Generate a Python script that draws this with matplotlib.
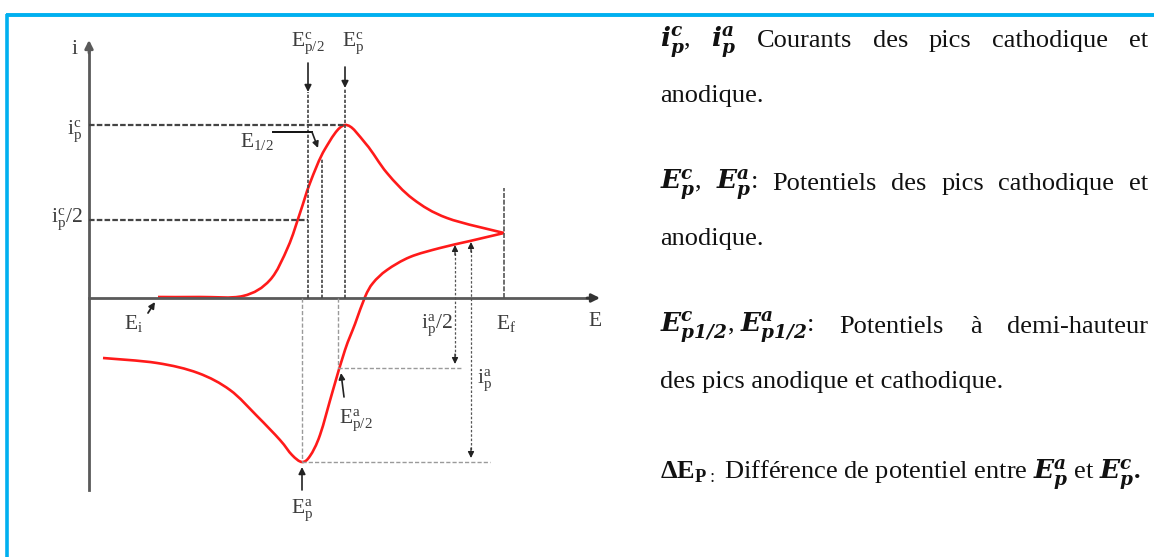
import matplotlib.pyplot as plt
import numpy as np
from matplotlib.path import Path
from matplotlib.patches import PathPatch

plt.rcParams['font.family'] = ['Liberation Serif', 'DejaVu Serif']
plt.rcParams['mathtext.fontset'] = 'custom'
plt.rcParams['mathtext.rm'] = 'Liberation Serif'
plt.rcParams['mathtext.it'] = 'Liberation Serif:italic'
plt.rcParams['mathtext.bf'] = 'Liberation Serif:bold'
plt.rcParams['mathtext.bfit'] = 'DejaVu Serif:italic:bold'

# cyclic voltammogram, E and i in diagram units (origin at the axes crossing)
# forward (cathodic) sweep from E_i to E_f
E_fwd = np.array([69, 111, 154, 181, 199, 211, 221, 236, 256, 277, 298, 324, 358,
                  415])
i_fwd = np.array([1, 1, 2, 18, 51, 85, 115, 149, 173, 154, 125, 99, 80, 65])
# return (anodic) sweep from E_f back
E_rev = np.array([415, 381, 351, 321, 298, 284, 276, 266, 256, 244, 231, 221, 213,
                  203, 191, 168, 141, 109, 68, 14])
i_rev = np.array([65, 57, 50, 41, 28, 15, 1, -26, -52, -92, -137, -158, -164, -157,
                  -142, -118, -92, -75, -65, -60])

# characteristic points
E_i, E_f = 69, 415
E_pc, i_pc = 256, 173
E_pc2, i_pc2 = 219, 78
E_half = 233
E_pa, i_pa = 213, -164
E_pa2, i_pa2 = 249, -70
x_ipa2, x_ipa = 366, 382

fig = plt.figure(figsize=(11.54, 5.57), dpi=100)
ax = fig.add_axes([0, 0, 1, 1])
ax.set_xlim(-89, 1065)
ax.set_ylim(-259, 298)
ax.axis('off')

# blue frame
blue = '#00b0f0'
ax.plot([-83, 1065], [283, 283], color=blue, lw=2.8, solid_capstyle='butt')
ax.plot([-82, -82], [284, -259], color=blue, lw=2.6, solid_capstyle='butt')

axis_c = '#5a5a5a'
txt_c = '#3c3c3c'


def arrow(tip, tail, color='#222', lw=1.2, size=10):
    ax.annotate('', xy=tip, xytext=tail,
                arrowprops=dict(arrowstyle='-|>', color=color, lw=lw,
                                mutation_scale=size, shrinkA=0, shrinkB=0))


def smooth_curve(x, y, **kw):
    # cubic Bezier path through the points (Catmull-Rom tangents)
    p = np.column_stack([x, y]).astype(float)
    ext = np.vstack([p[0], p, p[-1]])
    verts, codes = [p[0]], [Path.MOVETO]
    for k in range(len(p) - 1):
        p0, p1, p2, p3 = ext[k], ext[k + 1], ext[k + 2], ext[k + 3]
        verts += [p1 + (p2 - p0) / 6, p2 - (p3 - p1) / 6, p2]
        codes += [Path.CURVE4] * 3
    ax.add_patch(PathPatch(Path(verts, codes), fill=False, **kw))


# axes with arrows
ax.plot([0, 0], [-192, 250], color=axis_c, lw=2)
arrow((0, 258), (0, 245), color=axis_c, lw=2, size=12)
ax.plot([0, 503], [0, 0], color=axis_c, lw=2)
arrow((511, 0), (498, 0), color='#333', lw=2, size=12)

# guide lines (cathodic side)
dash_dark = dict(color='#444', lw=1.6, ls=(0, (2.5, 1)))
ax.plot([0, E_pc], [i_pc, i_pc], **dash_dark)
ax.plot([0, E_pc2], [i_pc2, i_pc2], **dash_dark)
ax.plot([E_pc2, E_pc2], [0, 206], color='#444', lw=1.2, ls=(0, (2, 1)))
ax.plot([E_pc, E_pc], [0, 210], color='#444', lw=1.2, ls=(0, (2, 1)))
ax.plot([E_half, E_half], [0, 140], color='#444', lw=1.2, ls=(0, (2, 1)))
ax.plot([E_f, E_f], [0, 110], color='#555', lw=1.2, ls=(0, (3, 1)))
arrow((E_pc2, 206), (E_pc2, 235))
arrow((E_pc, 210), (E_pc, 231))

# guide lines (anodic side)
light = dict(color='#9a9a9a', lw=1.0, ls=(0, (3, 1.5)))
ax.plot([E_pa, E_pa], [0, i_pa], **light)
ax.plot([E_pa2, E_pa2], [0, i_pa2], **light)
ax.plot([E_pa2, 374], [i_pa2, i_pa2], **light)
ax.plot([E_pa, 401], [i_pa, i_pa], **light)

# double-headed current arrows
for x, top, bot in [(x_ipa2, 53, i_pa2 + 4), (x_ipa, 56, i_pa + 4)]:
    ax.plot([x, x], [top - 8, bot + 8], color='#555', lw=0.9, ls=(0, (2, 1.5)))
    arrow((x, top), (x, top - 10), color='#222', lw=0.9, size=9)
    arrow((x, bot), (x, bot + 10), color='#222', lw=0.9, size=9)

# voltammogram
smooth_curve(E_fwd, i_fwd, edgecolor='#ff1a1a', lw=1.9, joinstyle='round')
smooth_curve(E_rev, i_rev, edgecolor='#ff1a1a', lw=1.9, joinstyle='round')

# pointer arrows
arrow((66, -4), (59, -15), lw=1.3, size=9)
arrow((252, -75), (255, -99), lw=1.2, size=9)
arrow((E_pa, -169), (E_pa, -192), lw=1.2, size=10)
ax.plot([184, 223], [166, 166], color='#111', lw=1.4)
arrow((229, 150), (223, 166), lw=1.2, size=9)

# diagram labels
lab = dict(color=txt_c, fontsize=15.5, ha='center', va='center')
ax.text(-14, 248, r'$\mathrm{i}$', **lab)
ax.text(-14, 167, r'$\mathrm{i}_\mathrm{p}^\mathrm{c}$', **lab)
ax.text(-22, 79, r'$\mathrm{i}_\mathrm{p}^\mathrm{c}/2$', **lab)
ax.text(E_pc2, 255, r'$\mathrm{E}_\mathrm{p/2}^\mathrm{c}$', **lab)
ax.text(264, 255, r'$\mathrm{E}_\mathrm{p}^\mathrm{c}$', **lab)
ax.text(168, 156, r'$\mathrm{E}_\mathrm{1/2}$', **lab)
ax.text(45, -25, r'$\mathrm{E}_\mathrm{i}$', **lab)
ax.text(348, -27, r'$\mathrm{i}_\mathrm{p}^\mathrm{a}/2$', **lab)
ax.text(417, -25, r'$\mathrm{E}_\mathrm{f}$', **lab)
ax.text(506, -24, r'$\mathrm{E}$', **lab)
ax.text(396, -82, r'$\mathrm{i}_\mathrm{p}^\mathrm{a}$', **lab)
ax.text(267, -122, r'$\mathrm{E}_\mathrm{p/2}^\mathrm{a}$', **lab)
ax.text(E_pa, -212, r'$\mathrm{E}_\mathrm{p}^\mathrm{a}$', **lab)

# definitions on the right
renderer = fig.canvas.get_renderer()
x_left, x_right = 660 - 89, 1148 - 89


def line(words, y_px, justify=True):
    y = 298 - y_px
    arts = [ax.text(x_left, y, w, fontsize=19, color='#111', va='baseline')
            for w in words]
    if not justify or len(arts) == 1:
        return
    widths = [a.get_window_extent(renderer).width for a in arts]
    gap = (x_right - x_left - sum(widths)) / (len(arts) - 1)
    x = x_left
    for a, w in zip(arts, widths):
        a.set_x(x)
        x += w + gap


line([r'$\mathbfit{i_p^c}$,', r'$\mathbfit{i_p^a}$', 'Courants', 'des', 'pics',
      'cathodique', 'et'], 47)
line(['anodique.'], 102)
line([r'$\mathbfit{E_p^c}$,', r'$\mathbfit{E_p^a}$:', 'Potentiels', 'des', 'pics',
      'cathodique', 'et'], 190)
line(['anodique.'], 245)
line([r'$\mathbfit{E^c_{p1/2}}$, $\mathbfit{E^a_{p1/2}}$:', 'Potentiels', 'à',
      'demi-hauteur'], 333)
line(['des pics anodique et cathodique.'], 388, justify=False)
line([r'$\mathbf{\Delta E}_{\mathbf{P}}$$_{:}$ Différence de potentiel entre '
      r'$\mathbfit{E_p^a}$ et $\mathbfit{E_p^c}\mathbf{.}$'], 480, justify=False)

fig.savefig('out.png', dpi=100)
